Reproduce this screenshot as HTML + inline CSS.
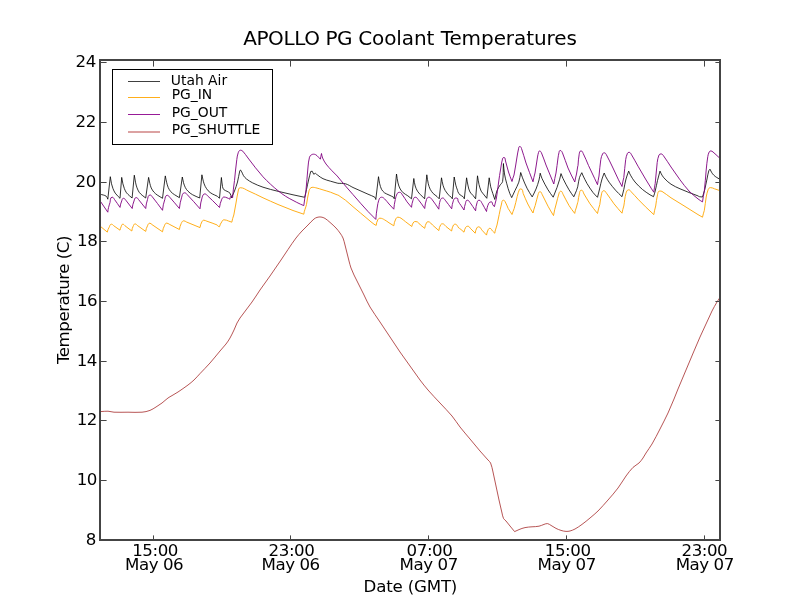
<!DOCTYPE html>
<html><head><meta charset="utf-8"><title>APOLLO PG Coolant Temperatures</title>
<style>
html,body{margin:0;padding:0;background:#fff;}
svg{display:block;}
text{font-family:"DejaVu Sans","Liberation Sans",sans-serif;fill:#000;}
.tk{font-size:16.67px;letter-spacing:-0.45px;}
.lg{font-size:13.89px;}
</style></head><body>
<svg width="800" height="600" viewBox="0 0 800 600">
<rect width="800" height="600" fill="#fff"/>
<defs><clipPath id="ax"><rect x="100" y="60" width="620" height="480"/></clipPath></defs>
<g fill="none" stroke-linejoin="round" clip-path="url(#ax)" id="curves">
<path d="M100.2,194.2C102.2,194.9 104.5,195.0 106.2,196.2C107.2,196.8 107.2,198.2 107.8,199.2C108.6,191.7 109.5,184.2 110.3,176.7C110.7,179.0 111.0,181.4 111.5,183.8C111.9,185.4 112.4,187.1 113.0,188.7C113.6,190.2 114.3,191.7 115.2,193.1C116.1,194.3 117.2,195.4 118.2,196.5C118.8,197.1 119.5,197.7 120.0,198.3C120.6,191.3 121.2,184.4 121.7,177.4C122.1,179.5 122.4,181.7 122.9,183.8C123.3,185.4 123.8,187.1 124.4,188.7C125.0,190.1 125.6,191.5 126.5,192.8C127.3,193.9 128.5,194.8 129.5,195.8C130.3,196.5 131.2,197.2 132.1,198.0C132.8,190.4 133.6,182.8 134.3,175.2C134.7,177.5 135.0,179.9 135.5,182.2C135.9,184.1 136.3,186.0 137.0,187.8C137.6,189.4 138.3,190.9 139.2,192.3C140.1,193.5 141.2,194.4 142.2,195.3C143.3,196.3 144.5,197.1 145.7,198.0C146.7,191.2 147.6,184.3 148.6,177.4C149.0,179.4 149.3,181.4 149.8,183.3C150.2,184.9 150.6,186.5 151.2,187.9C151.9,189.4 152.8,190.8 153.8,192.0C154.8,193.2 156.0,194.1 157.2,195.0C158.9,196.2 160.8,197.2 162.5,198.3C163.4,190.8 164.4,183.4 165.3,175.9C165.8,178.0 166.0,180.2 166.6,182.2C167.0,184.0 167.5,185.8 168.2,187.5C168.9,189.0 169.7,190.5 170.8,191.7C171.8,192.9 173.2,193.8 174.5,194.7C176.1,195.8 177.8,196.7 179.4,197.7C180.4,190.8 181.3,183.9 182.3,177.0C182.7,178.9 183.0,180.8 183.5,182.7C184.0,184.3 184.5,186.0 185.3,187.5C186.0,188.9 186.9,190.2 188.0,191.2C189.3,192.6 190.9,193.8 192.5,194.7C194.8,196.0 197.3,196.9 199.7,198.0C200.4,190.2 201.2,182.5 201.9,174.8C202.4,176.9 202.7,179.1 203.3,181.2C203.8,183.0 204.4,184.8 205.2,186.4C206.1,188.0 207.0,189.5 208.2,190.8C209.4,192.0 210.8,193.1 212.3,193.9C213.9,194.9 215.7,195.3 217.2,196.2C217.6,196.4 217.7,196.8 218.0,197.0C218.5,197.4 219.0,197.8 219.5,198.2C220.2,191.3 220.8,184.4 221.4,177.5C221.8,180.5 221.9,183.5 222.5,186.5C222.7,187.6 223.0,188.7 223.7,189.5C224.6,190.4 225.9,190.7 227.0,191.3C228.0,191.9 229.3,192.3 230.0,193.2C230.9,194.5 231.0,196.2 231.5,197.8C232.5,195.5 233.6,193.3 234.5,191.0C235.6,188.0 236.7,185.1 237.5,182.0C238.5,178.3 238.8,174.5 239.8,170.8C239.8,170.4 240.2,170.2 240.5,170.0C240.9,170.6 241.4,171.2 241.7,171.8C242.4,173.1 242.7,174.5 243.5,175.7C244.3,176.9 245.3,178.1 246.5,179.0C248.4,180.5 250.4,181.7 252.5,182.8C255.9,184.5 259.4,186.0 263.0,187.2C267.9,188.9 273.0,190.0 278.0,191.3C283.0,192.5 288.0,193.6 293.0,194.8C296.9,195.6 300.8,196.5 304.7,197.3C305.3,194.7 305.9,192.1 306.5,189.5C307.3,186.0 307.9,182.5 308.8,179.0C309.3,176.5 310.1,174.0 310.7,171.5C311.2,171.4 311.7,171.3 312.2,171.2C312.7,172.2 313.2,173.2 313.7,174.2C314.3,173.9 314.9,173.6 315.5,173.3C316.2,174.0 316.9,174.7 317.8,175.2C319.4,176.5 321.1,177.8 323.0,178.7C325.4,179.8 328.0,180.5 330.5,181.2C332.7,181.9 335.0,182.4 337.2,183.1C337.5,183.1 337.7,183.3 338.0,183.3C340.5,183.5 343.1,183.1 345.5,183.8C348.2,184.5 350.5,186.3 353.0,187.5C358.0,189.8 363.0,192.0 368.0,194.2C370.2,195.3 372.7,195.9 374.8,197.2C375.4,197.7 375.4,198.8 375.8,199.5C376.7,191.9 377.6,184.3 378.5,176.7C378.9,179.0 379.1,181.4 379.7,183.8C380.2,185.6 380.6,187.6 381.5,189.3C382.2,190.6 383.3,191.8 384.5,192.8C385.8,193.8 387.5,194.2 389.0,195.0C390.5,195.8 392.1,196.3 393.5,197.2C394.0,197.6 394.0,198.2 394.2,198.8C395.0,190.5 395.8,182.2 396.5,174.0C397.0,177.0 397.3,180.0 398.0,183.0C398.5,185.1 399.2,187.1 400.2,189.0C401.0,190.4 402.1,191.7 403.2,192.8C404.6,194.0 406.3,194.7 407.8,195.8C409.0,196.7 410.2,197.8 411.5,198.8C412.2,192.0 413.0,185.2 413.8,178.5C414.2,181.0 414.5,183.6 415.2,186.0C415.8,187.8 416.5,189.6 417.5,191.2C418.3,192.6 419.5,193.6 420.5,194.7C421.8,196.1 423.2,197.4 424.6,198.8C425.3,190.8 426.1,182.8 426.8,174.8C427.3,177.8 427.6,180.8 428.3,183.8C428.8,185.7 429.4,187.6 430.2,189.3C431.0,190.8 432.1,192.2 433.2,193.5C434.3,194.7 435.8,195.4 437.0,196.5C437.8,197.2 438.5,198.0 439.2,198.8C440.0,191.8 440.8,184.8 441.5,177.8C442.0,180.2 442.3,182.8 443.0,185.2C443.5,187.1 444.3,188.8 445.2,190.5C446.1,192.0 447.1,193.4 448.2,194.7C449.1,195.7 450.3,196.3 451.2,197.2C451.7,197.7 451.9,198.2 452.3,198.8C452.9,191.5 453.6,184.2 454.2,177.0C454.8,179.8 455.1,182.5 455.8,185.2C456.2,187.0 457.0,188.7 457.6,190.5C457.7,191.0 457.7,191.6 458.0,192.0C458.6,193.1 459.3,194.2 460.2,195.0C461.1,195.8 462.4,196.0 463.2,196.8C463.8,197.3 463.9,198.1 464.3,198.8C465.1,191.8 465.8,184.8 466.6,177.8C467.1,180.5 467.4,183.3 468.1,186.0C468.5,188.0 469.0,190.1 470.0,192.0C470.7,193.3 472.0,194.3 473.0,195.4C473.9,196.5 474.7,197.7 475.6,198.8C476.2,191.1 476.9,183.5 477.5,175.8C478.0,178.7 478.3,181.6 479.0,184.5C479.6,186.8 480.2,189.1 481.2,191.2C482.0,192.7 483.3,193.7 484.2,195.0C485.1,196.1 485.9,197.2 486.8,198.3C487.6,191.5 488.4,184.6 489.2,177.8C489.7,180.8 490.0,183.8 490.7,186.8C491.2,189.0 492.1,191.3 492.8,193.5C493.4,195.5 494.1,197.5 494.8,199.5C495.5,196.5 495.9,193.4 497.0,190.5C497.7,188.6 498.9,187.0 500.0,185.2C500.8,184.0 502.3,183.0 502.6,181.5C503.5,175.6 503.1,169.5 503.4,163.5C503.8,167.0 503.9,170.5 504.5,174.0C505.0,177.3 505.9,180.5 506.8,183.8C507.6,187.0 508.6,190.3 509.8,193.5C510.3,194.9 511.1,196.2 511.7,197.6C512.8,195.2 513.9,192.9 515.0,190.5C516.3,187.8 517.8,185.1 518.8,182.2C519.8,179.1 520.1,175.8 520.7,172.5C521.3,174.2 521.8,176.0 522.5,177.8C523.9,181.3 525.3,184.9 527.0,188.2C528.5,191.3 530.5,194.0 532.2,196.9C533.5,194.3 534.9,191.7 536.0,189.0C537.2,186.1 538.2,183.1 539.0,180.0C539.6,177.8 539.8,175.5 540.2,173.2C540.8,175.0 541.2,176.8 542.0,178.5C543.8,182.3 545.8,186.1 548.0,189.8C549.6,192.4 551.5,194.8 553.2,197.2C554.5,194.0 555.8,190.8 557.0,187.5C558.0,184.8 558.9,182.0 559.7,179.2C560.2,177.4 560.6,175.5 561.0,173.6C561.7,175.2 562.2,176.9 563.0,178.5C564.9,182.3 566.8,186.1 569.0,189.8C570.4,192.2 572.2,194.5 573.8,196.8C574.7,194.7 575.7,192.6 576.5,190.5C577.0,189.3 577.4,188.0 577.7,186.8C577.9,186.2 577.9,185.6 578.0,185.0C578.5,182.5 578.8,179.9 579.5,177.5C580.0,175.8 581.0,174.3 581.8,172.7C582.2,173.8 582.7,174.9 583.2,176.0C584.5,178.5 585.6,181.1 587.0,183.5C588.8,186.6 590.8,189.6 593.0,192.5C594.3,194.2 596.0,195.7 597.5,197.3C598.2,194.2 599.0,191.1 599.8,188.0C600.5,185.0 601.1,182.0 602.0,179.0C602.6,177.0 603.5,175.0 604.2,173.0C604.8,174.2 605.1,175.6 605.8,176.8C606.9,178.8 608.1,180.8 609.5,182.8C611.4,185.3 613.4,187.9 615.5,190.2C617.5,192.5 619.8,194.5 622.0,196.7C622.6,194.3 623.2,191.9 623.8,189.5C624.5,186.0 625.1,182.5 626.0,179.0C626.7,176.3 627.8,173.7 628.7,171.1C629.3,172.5 629.7,173.9 630.5,175.2C631.8,177.6 633.3,179.9 635.0,182.0C637.3,184.7 639.8,187.2 642.5,189.5C644.8,191.5 647.5,193.1 650.0,194.8C651.1,195.5 652.3,196.0 653.5,196.7C654.1,194.8 654.8,192.9 655.2,191.0C656.1,187.5 656.7,184.0 657.5,180.5C658.3,177.3 659.2,174.2 660.0,171.1C660.7,172.5 661.2,173.9 662.0,175.2C662.8,176.6 663.9,177.9 665.0,179.0C666.9,180.9 668.8,182.8 671.0,184.2C673.8,186.1 677.0,187.4 680.0,188.8C683.0,190.1 686.0,191.3 689.0,192.5C692.0,193.7 695.0,194.8 698.0,195.9C698.5,196.2 699.0,196.6 699.5,196.7C700.5,196.9 701.5,196.9 702.5,197.0C703.2,194.5 704.1,192.0 704.8,189.5C705.6,186.0 706.2,182.5 707.0,179.0C707.6,176.2 708.0,173.4 708.8,170.8C709.0,170.1 709.6,169.8 710.0,169.2C710.5,170.2 710.9,171.3 711.5,172.2C712.2,173.3 712.9,174.4 713.8,175.2C714.6,176.1 715.7,176.8 716.8,177.5C717.8,178.2 718.9,178.7 719.9,179.3" stroke="#000" stroke-width="0.8"/>
<path d="M100.2,226.2C102.6,228.2 105.0,230.1 107.3,232.1C107.5,230.3 108.4,228.8 109.2,227.2C109.8,226.1 109.9,224.2 111.5,224.2C112.6,224.2 113.0,225.2 113.8,225.8C115.9,227.2 118.0,228.8 120.0,230.2C120.2,228.9 120.7,227.7 121.2,226.5C121.6,225.7 121.6,224.2 122.8,224.2C123.9,224.2 124.3,225.2 125.0,225.8C127.3,227.5 129.5,229.2 131.8,231.0C131.9,229.3 132.5,227.7 133.2,226.2C133.7,225.3 133.8,223.9 135.1,223.9C136.2,223.9 136.6,224.9 137.3,225.4C140.1,227.4 142.9,229.4 145.7,231.4C145.9,229.5 146.6,227.5 147.5,225.8C148.0,224.7 148.3,223.2 149.8,223.2C150.9,223.2 151.3,224.1 152.0,224.6C155.5,226.9 159.0,229.3 162.5,231.8C162.7,229.7 163.5,227.6 164.4,225.8C165.0,224.7 165.2,223.1 166.7,223.1C167.9,223.1 168.4,223.8 169.2,224.2C172.7,226.0 176.0,227.8 179.4,229.5C179.7,227.4 180.3,225.4 181.2,223.5C181.8,222.4 182.2,220.8 183.8,220.8C185.0,220.8 185.6,221.6 186.5,222.0C191.0,223.9 195.5,225.7 200.0,227.6C200.2,225.6 200.9,223.7 201.8,222.0C202.2,221.2 202.6,220.2 203.8,220.2C205.1,220.2 205.8,220.9 206.8,221.2C210.3,222.5 213.9,223.5 217.2,225.0C217.7,225.2 217.6,226.0 218.0,226.2C218.4,226.6 219.0,226.5 219.5,226.7C219.8,224.9 220.8,223.3 221.8,221.8C222.3,220.9 222.7,219.8 224.0,219.8C226.0,219.8 227.0,220.5 228.5,221.0C229.6,221.3 230.7,221.8 231.8,222.2C232.0,219.7 233.2,217.4 233.8,215.0C234.6,211.0 235.2,207.0 236.0,203.0C236.8,199.0 237.2,194.9 238.2,191.0C238.6,189.8 238.6,187.7 240.2,187.7C243.7,187.7 245.5,189.6 248.0,190.7C253.1,192.9 258.0,195.4 263.0,197.8C268.0,200.0 273.0,202.4 278.0,204.5C283.0,206.6 288.0,208.6 293.0,210.5C296.6,211.8 300.2,213.0 303.8,214.2C304.1,210.9 305.8,207.8 306.5,204.5C307.4,200.3 307.6,195.9 308.8,191.8C309.1,190.3 309.7,188.5 311.0,187.7C312.3,186.9 314.0,187.4 315.5,187.7C318.1,188.2 320.5,189.2 323.0,189.9C325.5,190.7 328.0,191.3 330.5,192.2C332.8,193.0 335.0,194.1 337.2,194.9C337.5,195.0 337.8,194.9 338.0,195.0C340.6,196.7 343.1,198.4 345.5,200.2C348.1,202.3 350.5,204.6 353.0,206.7C355.5,208.8 358.0,210.9 360.5,213.0C363.0,215.1 365.5,217.2 368.0,219.3C370.0,221.0 371.9,222.7 374.0,224.2C374.7,224.8 375.5,225.0 376.2,225.4C376.4,223.5 376.8,221.5 377.8,219.8C378.2,219.0 378.9,218.2 380.0,218.2C382.0,218.2 383.1,219.0 384.5,219.8C386.1,220.6 387.5,221.8 389.0,222.8C390.6,223.8 392.2,224.8 393.8,225.8C394.0,223.4 394.7,221.1 395.8,219.0C396.2,218.1 396.8,217.2 398.0,217.2C399.3,217.2 400.1,217.7 401.0,218.2C402.6,219.2 404.0,220.6 405.5,221.7C407.6,223.3 409.7,224.9 411.8,226.5C412.0,224.9 412.7,223.2 413.8,222.0C414.2,221.4 415.0,221.6 416.0,221.6C418.4,221.6 419.0,223.8 420.5,225.0C421.9,226.1 423.3,227.2 424.7,228.3C424.9,226.4 425.6,224.5 426.5,222.8C426.8,222.2 427.2,221.7 428.0,221.7C430.3,221.7 431.1,223.8 432.5,225.0C434.7,226.8 436.7,228.7 438.8,230.6C439.0,228.5 439.7,226.4 440.8,224.6C441.1,224.0 441.7,223.8 442.6,223.8C444.4,223.8 444.9,225.6 446.0,226.5C447.9,228.0 449.7,229.5 451.6,231.0C451.8,228.9 452.5,226.8 453.5,225.0C453.8,224.4 454.5,224.2 455.3,224.2C456.6,224.2 457.0,225.4 457.7,226.2C457.9,226.5 457.7,227.0 458.0,227.2C458.9,228.1 460.0,228.7 461.0,229.5C462.0,230.4 463.0,231.3 464.0,232.2C464.2,230.5 464.9,228.7 465.8,227.2C466.2,226.6 466.8,226.2 467.8,226.2C469.4,226.2 469.8,227.9 470.8,228.8C472.3,230.2 473.8,231.8 475.2,233.2C475.4,231.4 475.9,229.6 476.8,228.0C477.1,227.4 477.6,226.8 478.6,226.8C480.6,226.8 480.9,229.1 482.0,230.2C483.5,231.8 485.0,233.5 486.5,235.1C486.7,233.0 487.5,231.0 488.4,229.2C488.7,228.7 489.1,228.3 489.8,228.3C491.4,228.3 491.6,230.1 492.5,231.0C493.2,231.8 494.0,232.5 494.8,233.2C495.0,230.4 496.3,227.8 497.0,225.0C497.8,221.5 498.5,218.0 499.2,214.5C500.0,211.0 500.5,207.4 501.5,204.0C501.9,202.6 501.7,200.2 503.4,200.2C504.4,200.2 504.9,201.1 505.2,201.8C506.5,203.9 507.1,206.3 508.2,208.5C509.4,210.6 510.8,212.5 512.0,214.5C512.3,212.4 513.7,210.6 514.2,208.5C515.4,204.5 516.2,200.5 517.2,196.5C517.9,194.1 518.4,191.5 519.5,189.3C519.7,188.8 520.4,189.0 521.0,189.0C523.1,189.0 522.6,192.0 523.2,193.5C524.8,197.0 526.0,200.6 527.8,204.0C529.3,207.1 531.2,210.0 533.0,213.0C533.3,210.4 534.5,208.0 535.2,205.5C536.3,201.8 537.0,197.9 538.2,194.2C538.6,193.3 538.7,191.7 540.0,191.7C541.4,191.7 541.5,193.3 542.0,194.2C544.1,198.2 545.9,202.3 548.0,206.2C549.7,209.4 551.7,212.5 553.5,215.6C553.9,211.6 555.3,207.8 556.2,204.0C557.2,200.2 558.0,196.4 559.2,192.8C559.5,192.1 559.9,191.2 560.8,191.2C562.3,191.2 562.4,193.2 563.0,194.2C565.1,197.9 566.8,201.9 569.0,205.5C570.7,208.3 572.8,210.8 574.7,213.4C574.9,211.2 575.9,209.2 576.5,207.0C576.9,205.5 577.3,204.0 577.7,202.5C577.8,202.2 577.9,201.8 578.0,201.5C578.5,198.8 578.7,195.9 579.5,193.2C579.8,192.1 579.8,190.2 581.3,190.2C583.2,190.2 583.2,192.7 584.0,194.0C586.1,197.2 587.8,200.6 590.0,203.8C592.3,207.1 595.0,210.2 597.5,213.5C597.8,210.4 599.1,207.5 599.8,204.5C600.5,200.8 600.6,196.9 601.7,193.2C602.0,192.2 602.4,190.7 603.8,190.7C605.4,190.7 605.7,192.3 606.5,193.2C609.1,196.6 611.4,200.3 614.0,203.8C616.5,207.0 619.3,210.0 622.0,213.2C622.2,210.7 623.3,208.4 623.8,206.0C624.6,201.8 624.7,197.4 626.0,193.2C626.4,191.9 626.9,189.8 628.7,189.8C630.0,189.8 630.5,191.0 631.2,191.8C633.6,194.1 635.7,196.8 638.0,199.2C640.4,201.8 643.0,204.3 645.5,206.8C648.2,209.4 651.0,212.0 653.8,214.6C654.0,211.6 655.2,208.9 655.7,206.0C656.4,202.3 656.5,198.4 657.5,194.8C657.9,193.3 657.9,191.0 659.8,191.0C660.7,191.0 661.3,191.1 662.0,191.4C665.1,193.3 667.9,195.7 671.0,197.8C674.9,200.3 679.0,202.8 683.0,205.2C688.0,208.4 693.0,211.5 698.0,214.6C699.5,215.5 701.0,216.3 702.5,217.2C702.7,214.9 703.9,212.8 704.3,210.5C705.1,206.0 705.4,201.5 706.2,197.0C706.7,194.5 707.2,191.9 708.2,189.5C708.6,188.6 709.2,187.6 710.5,187.6C712.2,187.6 713.2,188.3 714.5,188.8C716.3,189.3 718.1,190.0 719.9,190.6" stroke="#ffa500" stroke-width="0.9"/>
<path d="M100.2,201.0C102.8,204.8 105.2,208.5 107.8,212.2C108.0,208.9 109.0,205.7 110.0,202.5C110.5,200.7 109.9,197.2 112.2,197.2C113.6,197.2 113.9,198.7 114.5,199.5C116.5,202.1 118.2,204.8 120.0,207.4C120.2,205.2 120.9,203.1 121.7,201.0C122.1,200.0 122.1,198.3 123.5,198.3C124.8,198.3 125.1,199.5 125.8,200.2C128.0,202.9 130.0,205.8 132.2,208.5C132.4,205.9 133.1,203.4 134.0,201.0C134.5,199.7 134.5,197.6 136.2,197.6C137.5,197.6 137.9,198.7 138.5,199.5C141.0,202.4 143.3,205.5 145.7,208.5C145.9,205.4 146.6,202.4 147.5,199.5C148.0,197.9 147.9,195.0 150.1,195.0C151.3,195.0 151.7,196.1 152.3,196.8C155.9,201.2 159.1,205.8 162.5,210.3C162.8,206.6 163.6,203.0 164.8,199.5C165.2,197.9 165.2,195.3 167.3,195.3C168.6,195.3 169.0,196.5 169.7,197.2C173.1,200.9 176.2,204.8 179.4,208.5C179.7,204.7 180.5,200.9 181.7,197.2C182.2,195.6 182.3,192.8 184.6,192.8C185.9,192.8 186.5,193.8 187.2,194.6C191.7,199.1 195.8,204.1 200.0,208.8C200.3,204.9 201.0,201.0 202.2,197.2C202.7,195.9 203.0,193.9 204.8,193.9C206.2,193.9 206.7,195.0 207.5,195.8C210.9,198.8 214.0,202.0 217.2,205.2C217.5,205.5 217.7,205.7 218.0,206.0C218.5,206.5 219.0,207.0 219.5,207.5C219.8,204.7 220.6,201.9 221.8,199.2C222.2,198.3 222.7,197.0 224.0,197.0C225.3,197.0 226.0,197.4 227.0,197.8C228.0,198.1 229.0,198.8 230.0,199.2C230.2,198.1 230.1,196.2 231.5,196.2C232.3,196.2 232.2,197.2 232.6,197.8C232.8,192.0 233.9,186.3 234.5,180.5C235.3,173.5 235.8,166.5 236.8,159.5C237.1,157.2 237.4,154.9 238.2,152.8C238.7,151.7 239.1,150.2 240.5,150.2C241.5,150.2 242.2,150.7 242.8,151.2C244.7,153.3 246.3,155.7 248.0,158.0C250.5,161.2 252.9,164.5 255.5,167.8C257.9,170.8 260.4,173.9 263.0,176.8C265.4,179.4 267.9,181.8 270.5,184.2C272.9,186.5 275.4,188.6 278.0,190.7C280.4,192.6 282.9,194.6 285.5,196.2C287.9,197.8 290.5,199.1 293.0,200.4C295.5,201.8 298.0,203.0 300.5,204.2C301.6,204.7 302.7,205.1 303.8,205.6C304.0,201.2 305.3,196.9 305.8,192.5C306.7,184.0 307.1,175.5 308.0,167.0C308.3,163.7 308.6,160.4 309.5,157.2C309.8,156.1 310.7,155.0 311.8,154.6C312.9,154.0 314.3,154.1 315.5,154.6C316.7,155.0 317.5,156.3 318.5,157.2C319.2,157.9 319.8,158.5 320.4,159.2C320.6,157.3 321.1,155.4 321.5,153.5C321.9,155.0 321.9,156.6 322.6,158.0C323.5,160.1 324.6,162.1 326.0,164.0C327.8,166.4 329.9,168.6 332.0,170.8C333.7,172.6 335.5,174.2 337.2,176.0C337.5,176.3 337.7,176.7 338.0,177.0C340.5,180.0 343.0,183.0 345.5,186.0C348.0,188.9 350.5,191.7 353.0,194.6C355.5,197.4 358.0,200.4 360.5,203.2C363.0,206.0 365.4,208.8 368.0,211.5C370.5,214.2 373.2,216.8 375.8,219.4C376.0,215.3 376.7,211.1 377.3,207.0C377.7,204.7 377.9,202.4 378.8,200.2C379.3,199.0 379.8,197.2 381.5,197.2C382.9,197.2 383.7,198.0 384.5,198.8C386.2,200.3 387.5,202.3 389.0,204.0C390.6,205.8 392.2,207.5 393.8,209.2C394.0,206.0 394.6,202.7 395.3,199.5C395.7,197.4 396.2,195.3 397.2,193.5C397.7,192.8 398.4,192.3 399.5,192.3C401.2,192.3 401.7,193.9 402.5,195.0C404.2,197.1 405.4,199.6 407.0,201.8C408.4,203.7 410.0,205.5 411.5,207.3C411.7,204.9 412.2,202.5 413.0,200.2C413.4,199.1 413.7,197.2 415.2,197.2C416.8,197.2 417.4,198.5 418.2,199.5C420.6,202.3 422.6,205.5 424.7,208.5C424.9,205.4 425.5,202.4 426.5,199.5C426.9,198.5 427.4,197.2 428.8,197.2C430.3,197.2 431.0,198.3 431.8,199.2C434.4,202.3 436.4,205.9 438.8,209.2C439.0,206.2 439.3,203.1 440.3,200.2C440.7,199.2 441.3,198.0 442.7,198.0C444.1,198.0 444.5,199.4 445.2,200.2C447.5,203.0 449.6,206.0 451.7,208.8C451.9,205.9 452.5,203.0 453.5,200.2C453.9,199.3 454.4,198.0 455.8,198.0C456.6,198.0 457.3,198.1 457.7,198.6C458.2,199.2 457.7,200.3 458.0,201.0C458.8,202.6 460.0,204.0 461.0,205.5C462.0,207.0 463.0,208.5 464.0,210.0C464.2,207.7 464.8,205.4 465.5,203.2C465.9,202.1 465.8,200.2 467.3,200.2C468.8,200.2 469.3,201.6 470.0,202.5C472.0,205.1 473.7,208.0 475.6,210.8C475.7,208.0 476.2,205.2 477.1,202.5C477.4,201.6 477.7,200.2 479.0,200.2C480.8,200.2 481.2,202.1 482.0,203.2C483.7,205.9 485.0,208.8 486.5,211.5C486.8,208.7 487.5,205.8 488.8,203.2C489.2,202.4 490.1,201.8 491.3,201.8C492.7,201.8 492.2,203.8 492.8,204.8C493.3,205.5 493.9,206.0 494.4,206.7C494.7,204.2 495.8,201.9 496.2,199.5C497.2,194.0 497.7,188.5 498.5,183.0C499.2,178.0 499.9,173.0 500.8,168.0C501.3,164.7 501.7,161.4 502.7,158.2C502.8,157.8 503.4,157.5 504.0,157.5C505.6,157.5 505.1,159.8 505.5,161.0C506.6,164.6 507.4,168.4 508.5,172.0C509.5,175.2 510.8,178.3 512.0,181.5C512.2,179.2 513.5,177.2 514.0,175.0C515.2,169.0 516.0,163.0 517.0,157.0C517.5,154.3 517.8,151.6 518.5,149.0C518.7,148.1 518.6,146.5 519.8,146.5C520.9,146.5 521.2,147.7 521.5,148.5C523.3,153.2 524.3,158.2 526.0,163.0C528.2,169.3 530.7,175.5 533.0,181.8C533.2,178.8 534.5,176.0 535.0,173.0C536.0,167.7 536.6,162.3 537.5,157.0C537.8,155.5 538.0,154.0 538.5,152.5C538.7,151.9 538.7,151.0 539.5,151.0C540.7,151.0 541.1,152.1 541.5,153.0C543.3,156.9 544.4,161.0 546.0,165.0C548.5,171.4 551.2,177.7 553.8,184.0C554.1,180.3 555.4,176.7 556.0,173.0C556.8,168.0 557.3,163.0 558.0,158.0C558.3,156.2 558.5,154.3 559.0,152.5C559.2,151.8 559.2,150.5 560.2,150.5C561.6,150.5 562.0,152.0 562.5,153.0C564.7,157.9 565.9,163.1 568.0,168.0C570.0,172.8 572.5,177.3 574.8,182.0C575.0,179.3 576.0,176.7 576.5,174.0C577.0,171.3 577.3,168.7 577.8,166.0C577.8,165.8 578.0,165.7 578.0,165.5C578.4,161.8 578.4,157.9 579.2,154.2C579.5,153.0 579.4,150.9 581.0,150.9C582.4,150.9 582.7,152.5 583.2,153.5C585.3,157.4 586.7,161.5 588.5,165.5C590.4,169.8 592.5,174.0 594.5,178.2C595.5,180.4 596.5,182.5 597.5,184.7C597.7,181.8 598.6,178.9 599.0,176.0C599.7,170.5 599.9,165.0 600.8,159.5C601.1,157.4 601.8,155.4 602.8,153.5C603.0,153.0 603.5,152.8 604.2,152.8C605.6,152.8 606.0,154.1 606.5,155.0C608.7,158.9 610.5,163.0 612.5,167.0C614.5,171.2 616.5,175.5 618.5,179.8C619.6,182.0 620.8,184.2 622.0,186.5C622.2,183.4 623.3,180.5 623.8,177.5C624.6,171.5 624.8,165.5 625.7,159.5C626.0,157.3 626.6,155.2 627.5,153.2C627.7,152.7 628.3,152.3 629.0,152.3C630.3,152.3 630.7,153.4 631.2,154.2C633.7,158.1 635.7,162.3 638.0,166.2C640.5,170.5 643.0,174.8 645.5,179.0C647.5,182.3 649.5,185.5 651.5,188.8C652.2,189.9 653.0,191.0 653.8,192.2C653.9,189.3 654.9,186.4 655.2,183.5C656.1,176.5 656.3,169.5 657.2,162.5C657.5,160.0 658.0,157.4 659.0,155.0C659.3,154.3 660.0,153.9 661.0,153.9C662.3,153.9 662.9,154.9 663.5,155.8C666.2,159.3 668.4,163.3 671.0,167.0C673.9,171.3 676.9,175.6 680.0,179.8C682.9,183.6 685.7,187.5 689.0,191.0C691.7,193.9 694.9,196.4 698.0,198.9C699.4,200.1 701.0,200.9 702.5,201.9C702.7,198.3 703.9,194.7 704.3,191.0C705.1,184.0 705.6,177.0 706.2,170.0C706.7,165.5 707.0,161.0 707.8,156.5C708.0,154.9 708.5,153.4 709.2,152.0C709.5,151.5 710.0,150.9 710.8,150.9C711.8,150.9 712.3,151.5 713.0,152.0C714.1,152.8 715.0,153.8 716.0,154.7C717.3,155.9 718.6,157.1 719.9,158.3" stroke="#800080" stroke-width="0.9"/>
<path d="M100.4,411.6C102.9,411.5 105.5,411.1 108.0,411.2C110.0,411.3 112.0,412.1 114.0,412.2C118.7,412.4 123.3,412.2 128.0,412.2C132.7,412.2 137.3,412.6 142.0,412.2C144.7,412.0 147.4,411.4 150.0,410.4C152.2,409.6 154.0,408.2 156.0,407.0C158.0,405.7 160.1,404.4 162.0,403.0C164.1,401.4 165.9,399.5 168.0,398.0C169.2,397.1 170.7,396.4 172.0,395.6C174.0,394.4 176.1,393.3 178.0,392.0C181.4,389.8 184.7,387.4 188.0,385.0C190.1,383.4 192.1,381.8 194.0,380.0C196.1,378.0 198.0,375.7 200.0,373.6C203.3,370.1 206.8,366.6 210.0,363.0C213.5,359.1 216.6,355.0 220.0,351.0C222.0,348.6 224.1,346.4 226.0,344.0C227.5,342.1 228.8,340.1 230.0,338.0C231.5,335.4 232.7,332.7 234.0,330.0C235.1,327.7 235.9,325.3 237.0,323.0C237.9,321.3 238.9,319.6 240.0,318.0C241.9,315.3 244.0,312.7 246.0,310.0C248.0,307.3 250.1,304.7 252.0,302.0C254.8,298.1 257.3,294.0 260.0,290.0C263.3,285.3 266.7,280.7 270.0,276.0C273.7,270.7 277.4,265.4 281.0,260.0C283.4,256.5 285.6,253.0 288.0,249.5C290.6,245.6 293.2,241.7 296.0,238.0C297.9,235.5 299.9,233.3 302.0,231.0C303.9,228.9 306.0,227.0 308.0,225.0C310.0,223.0 311.8,220.8 314.0,219.0C314.9,218.3 315.9,217.7 317.0,217.4C318.3,217.0 319.7,216.8 321.0,217.0C322.4,217.2 323.8,217.7 325.0,218.4C326.8,219.5 328.4,221.0 330.0,222.4C332.1,224.2 334.1,226.0 336.0,228.0C337.5,229.6 338.8,231.3 340.0,233.0C341.1,234.6 342.3,236.2 343.0,238.0C343.9,240.2 344.4,242.7 345.0,245.0C345.7,247.7 346.3,250.3 347.0,253.0C347.7,255.7 348.3,258.3 349.0,261.0C349.6,263.3 350.2,265.7 351.0,268.0C351.9,270.4 352.9,272.7 354.0,275.0C355.3,277.7 356.7,280.3 358.0,283.0C360.0,287.0 362.0,291.0 364.0,295.0C366.0,299.0 367.7,303.2 370.0,307.0C373.1,312.2 376.7,317.0 380.0,322.0C383.3,327.0 386.7,332.0 390.0,337.0C393.3,342.0 396.6,347.1 400.0,352.0C403.3,356.7 406.7,361.3 410.0,366.0C413.3,370.7 416.6,375.4 420.0,380.0C422.6,383.4 425.2,386.8 428.0,390.0C431.9,394.5 436.0,398.7 440.0,403.0C444.0,407.3 448.2,411.5 452.0,416.0C454.9,419.5 457.2,423.4 460.0,427.0C463.2,431.1 466.7,435.0 470.0,439.0C473.3,443.0 476.6,447.0 480.0,451.0C482.6,454.0 485.3,457.0 488.0,460.0C488.9,461.0 490.1,461.8 490.6,463.0C491.8,465.9 492.3,469.0 493.0,472.0C494.1,476.6 495.0,481.3 496.0,486.0C497.0,490.7 498.0,495.3 499.0,500.0C500.0,504.3 500.9,508.7 502.0,513.0C502.5,514.9 502.7,516.9 503.6,518.6C504.1,519.6 505.3,520.1 506.0,521.0C507.4,522.6 508.7,524.3 510.0,526.0C511.5,527.9 513.1,529.7 514.6,531.6C516.1,530.9 517.5,530.2 519.0,529.6C521.0,528.8 522.9,528.0 525.0,527.6C527.3,527.1 529.7,527.0 532.0,526.8C534.3,526.6 536.7,526.7 539.0,526.2C540.7,525.9 542.3,524.9 544.0,524.4C545.2,524.0 546.4,523.4 547.6,523.6C548.9,523.8 549.9,524.8 551.0,525.4C552.7,526.4 554.3,527.5 556.0,528.4C557.6,529.2 559.3,529.9 561.0,530.4C562.6,530.9 564.3,531.3 566.0,531.4C567.3,531.5 568.7,531.3 570.0,531.0C571.7,530.5 573.4,529.9 575.0,529.0C577.4,527.7 579.7,526.1 582.0,524.4C584.8,522.4 587.4,520.2 590.0,518.0C592.7,515.7 595.5,513.5 598.0,511.0C601.5,507.5 604.7,503.7 608.0,500.0C611.4,496.1 614.9,492.2 618.0,488.0C620.9,484.2 623.2,479.9 626.0,476.0C628.2,473.0 630.4,470.0 633.0,467.4C634.8,465.6 637.2,464.7 639.0,463.0C640.6,461.5 641.8,459.7 643.0,458.0C644.1,456.4 644.9,454.6 646.0,453.0C647.9,450.0 650.2,447.1 652.0,444.0C654.9,439.1 657.4,434.0 660.0,429.0C662.7,423.7 665.5,418.4 668.0,413.0C670.1,408.4 672.0,403.7 674.0,399.0C675.4,395.7 676.6,392.3 678.0,389.0C680.6,382.7 683.3,376.3 686.0,370.0C688.7,363.7 691.3,357.3 694.0,351.0C696.0,346.3 697.9,341.6 700.0,337.0C701.9,332.6 704.0,328.3 706.0,324.0C708.0,319.7 709.9,315.3 712.0,311.0C713.5,307.9 715.3,305.0 717.0,302.0C717.9,300.4 719.0,298.9 720.0,297.4" stroke="#a52a2a" stroke-width="0.8"/>
</g>
<!-- frame -->
<rect x="100" y="60" width="620" height="480" fill="none" stroke="#444" stroke-width="2"/>
<!-- ticks -->
<g stroke="#444" stroke-width="1" id="ticks">
<path d="M101 480.5h5.6M719 480.5h-3.6"/>
<path d="M101 420.5h5.6M719 420.5h-3.6"/>
<path d="M101 361.5h5.6M719 361.5h-3.6"/>
<path d="M101 301.5h5.6M719 301.5h-3.6"/>
<path d="M101 241.5h5.6M719 241.5h-3.6"/>
<path d="M101 182.5h5.6M719 182.5h-3.6"/>
<path d="M101 122.5h5.6M719 122.5h-3.6"/>
<path d="M101 62.5h5.6M719 62.5h-3.6"/>
<path d="M153.5 539v-3.6M153.5 61v5.6"/>
<path d="M290.5 539v-3.6M290.5 61v5.6"/>
<path d="M428.5 539v-3.6M428.5 61v5.6"/>
<path d="M566.5 539v-3.6M566.5 61v5.6"/>
<path d="M704.5 539v-3.6M704.5 61v5.6"/>
</g>
<!-- labels -->
<text x="243.2" y="45" style="font-size:20px"><tspan style="letter-spacing:-0.41px">APOLLO PG </tspan><tspan style="letter-spacing:-0.08px">Coolant Temperatures</tspan></text>
<text x="363.6" y="591.7" class="tk" style="letter-spacing:-0.2px">Date (GMT)</text>
<text transform="translate(69,364) rotate(-90)" class="tk" style="letter-spacing:-0.5px">Temperature (C)</text>
<g class="tk" text-anchor="end" id="ylab">
<text x="95.9" y="545.3">8</text>
<text x="97.0" y="484.7">10</text>
<text x="97.0" y="424.7">12</text>
<text x="97.0" y="365.7">14</text>
<text x="97.2" y="305.7">16</text>
<text x="97.3" y="245.7">18</text>
<text x="95.8" y="186.7">20</text>
<text x="95.8" y="126.7">22</text>
<text x="95.8" y="66.7">24</text>
</g>
<g class="tk" text-anchor="middle" id="xlab">
<text x="155.1" y="556">15:00</text><text x="154.1" y="570">May 06</text>
<text x="291.5" y="556">23:00</text><text x="290.6" y="570">May 06</text>
<text x="429.5" y="556">07:00</text><text x="428.7" y="570">May 07</text>
<text x="567.7" y="556">15:00</text><text x="566.7" y="570">May 07</text>
<text x="704.4" y="556">23:00</text><text x="704.8" y="570">May 07</text>
</g>
<!-- legend -->
<rect x="112.5" y="69.5" width="160" height="75" fill="#fff" stroke="#000" stroke-width="1"/>
<g fill="none" stroke-width="0.9">
<path d="M128 81.5h32" stroke="#000" stroke-width="0.75"/>
<path d="M128 97.5h32" stroke="#ffa500"/>
<path d="M128 114.5h32" stroke="#8b008b"/>
<path d="M128 132h32" stroke="#b03030" stroke-width="1.2" stroke-opacity="0.75"/>
</g>
<g class="lg">
<text x="170.8" y="85">Utah Air</text>
<text x="171.7" y="99">PG_IN</text>
<text x="171.7" y="117">PG_OUT</text>
<text x="171.7" y="134">PG_SHUTTLE</text>
</g>
</svg>
</body></html>
